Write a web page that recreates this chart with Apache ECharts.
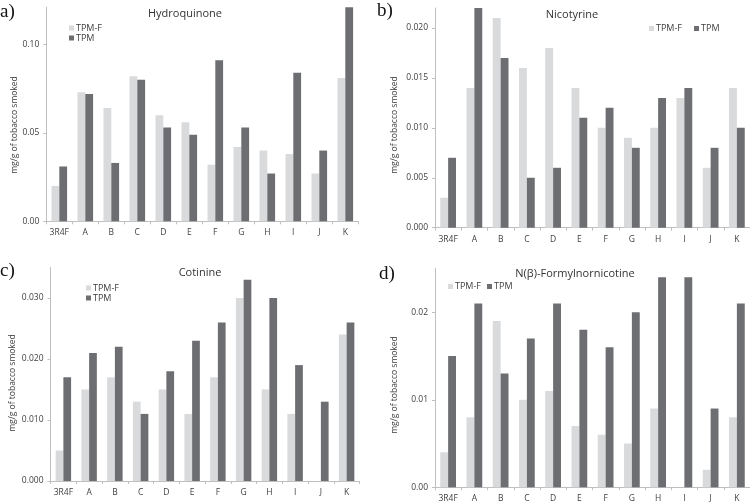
<!DOCTYPE html>
<html><head><meta charset="utf-8">
<script src="https://cdn.jsdelivr.net/npm/echarts@6/dist/echarts.min.js"></script>
<style>html,body{margin:0;padding:0;background:#fff}#c{width:750px;height:504px}</style>
</head><body><div id="c"></div>
<script>
const categories = ['3R4F','A','B','C','D','E','F','G','H','I','J','K'];
const hydroquinoneTPMF = [0.020,0.073,0.064,0.082,0.060,0.056,0.032,0.042,0.040,0.038,0.027,0.081];
const hydroquinoneTPM  = [0.031,0.072,0.033,0.080,0.053,0.049,0.091,0.053,0.027,0.084,0.040,0.121];
const nicotyrineTPMF = [0.003,0.014,0.021,0.016,0.018,0.014,0.010,0.009,0.010,0.013,0.006,0.014];
const nicotyrineTPM  = [0.007,0.022,0.017,0.005,0.006,0.011,0.012,0.008,0.013,0.014,0.008,0.010];
const cotinineTPMF = [0.005,0.015,0.017,0.013,0.015,0.011,0.017,0.030,0.015,0.011,null,0.024];
const cotinineTPM  = [0.017,0.021,0.022,0.011,0.018,0.023,0.026,0.033,0.030,0.019,0.013,0.026];
const formylTPMF = [0.004,0.008,0.019,0.010,0.011,0.007,0.006,0.005,0.009,null,0.002,0.008];
const formylTPM  = [0.015,0.021,0.013,0.017,0.021,0.018,0.016,0.020,0.024,0.024,0.009,0.021];
const panelTitles = ['Hydroquinone','Nicotyrine','Cotinine','N(\u03b2)-Formylnornicotine'];
const panelLetters = ['a)','b)','c)','d)'];
const yName = 'mg/g of tobacco smoked';
const yTicks = [
  {max:0.121, interval:0.05, dec:2},
  {max:0.022, interval:0.005, dec:3},
  {max:0.035, interval:0.010, dec:3},
  {max:0.025, interval:0.010, dec:2}
];
const seriesData = [
  [hydroquinoneTPMF, hydroquinoneTPM],
  [nicotyrineTPMF, nicotyrineTPM],
  [cotinineTPMF, cotinineTPM],
  [formylTPMF, formylTPM]
];

const LIGHT = '#d9dadc', DARK = '#6d6e71';
const AX = '#bfbfbf', TXT = '#404040';
const FONT = 'Open Sans';

const grids = [
  {left:46.3, top:7.3, width:312, height:214},
  {left:435, top:8, width:316, height:219.7},
  {left:50.5, top:267.5, width:309, height:213.5},
  {left:435, top:268.5, width:316, height:218.8}
];

const xAxis = [], yAxis = [], series = [];
grids.forEach((g,i)=>{
  xAxis.push({type:'category', gridIndex:i, data:categories,
    axisLine:{lineStyle:{color:AX}},
    axisTick:{show:true, length:3, lineStyle:{color:AX}},
    axisLabel:{color:TXT, fontSize:8.5, fontFamily:FONT, margin:7}});
  yAxis.push({type:'value', gridIndex:i, min:0, max:yTicks[i].max, interval:yTicks[i].interval,
    splitLine:{show:false},
    axisLine:{show:true, lineStyle:{color:AX}},
    axisTick:{show:true, length:3, lineStyle:{color:AX}},
    axisLabel:{color:TXT, fontSize:8.5, fontFamily:FONT, margin:7, showMaxLabel:false,
      formatter:v=>v.toFixed(yTicks[i].dec)}});
  series.push({name:'TPM-F', type:'bar', xAxisIndex:i, yAxisIndex:i, data:seriesData[i][0],
    barWidth:'30%', barGap:'0%', itemStyle:{color:LIGHT}, silent:true});
  series.push({name:'TPM', type:'bar', xAxisIndex:i, yAxisIndex:i, data:seriesData[i][1],
    barWidth:'30%', barGap:'0%', itemStyle:{color:DARK}, silent:true});
});

const legText = {color:TXT, fontSize:9, fontFamily:FONT};
const legend = [
  {orient:'vertical', left:64, top:18, itemWidth:5, itemHeight:5, itemGap:0, data:['TPM-F','TPM'], textStyle:Object.assign({lineHeight:10,padding:[0,0,0,-3]},legText), icon:'rect'},
  {orient:'horizontal', left:644, top:19, itemWidth:5, itemHeight:5, itemGap:12, data:['TPM-F','TPM'], textStyle:Object.assign({padding:[0,0,0,-3]},legText), icon:'rect'},
  {orient:'vertical', left:81, top:278, itemWidth:5, itemHeight:5, itemGap:0, data:['TPM-F','TPM'], textStyle:Object.assign({lineHeight:10,padding:[0,0,0,-3]},legText), icon:'rect'},
  {orient:'horizontal', left:443, top:277, itemWidth:5, itemHeight:5, itemGap:6, data:['TPM-F','TPM'], textStyle:Object.assign({padding:[0,0,0,-3]},legText), icon:'rect'}
];

const titlePos = [[185,14],[572,15],[200,273],[575,274]];
const letterPos = [[0,3],[377,2],[0,262],[379,265]];
const yNamePos = [[15,125],[395,125],[13,383],[395,385]];
const graphic = [];
for (let i=0;i<4;i++){
  graphic.push({type:'text', x:titlePos[i][0], y:titlePos[i][1],
    style:{text:panelTitles[i], fill:'#333', font:'11px "'+FONT+'"', textAlign:'center', textVerticalAlign:'middle'}});
  graphic.push({type:'text', x:letterPos[i][0], y:letterPos[i][1],
    style:{text:panelLetters[i], fill:'#111', font:'19px "Liberation Serif"', textAlign:'left', textVerticalAlign:'top'}});
  graphic.push({type:'text', x:yNamePos[i][0], y:yNamePos[i][1], rotation:Math.PI/2,
    style:{text:yName, fill:TXT, font:'8.5px "'+FONT+'"', textAlign:'center', textVerticalAlign:'middle'}});
}

const chart = echarts.init(document.getElementById('c'), null, {renderer:'canvas'});
chart.setOption({animation:false, backgroundColor:'#fff', grid:grids, xAxis, yAxis, series, legend, graphic});
</script></body></html>
